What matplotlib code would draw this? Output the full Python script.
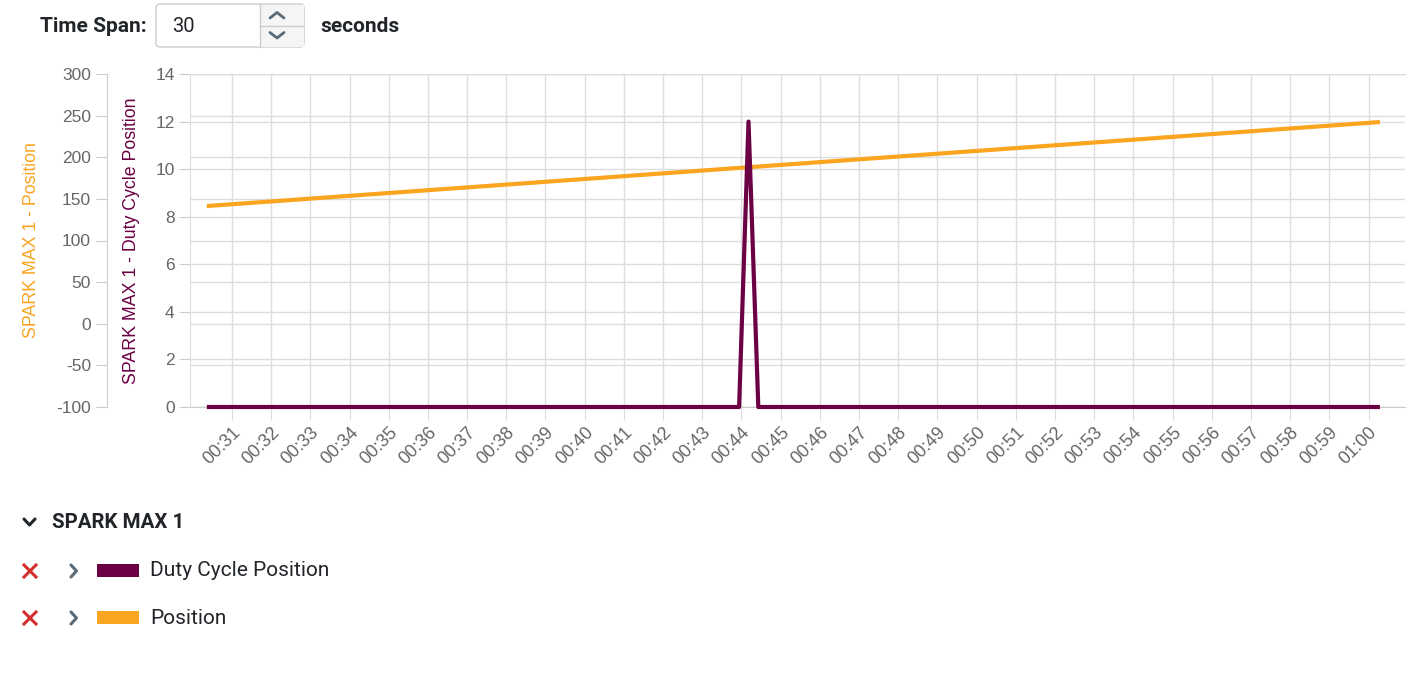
import matplotlib
matplotlib.use("Agg")
import matplotlib.pyplot as plt
import matplotlib.transforms as mtransforms
from matplotlib.lines import Line2D
from matplotlib.patches import FancyBboxPatch, Rectangle

# ---------------- data ----------------
duty_time = [30.36, 43.94, 44.18, 44.43, 60.29]
duty_values = [0, 0, 12, 0, 0]
pos_time = [30.36, 44.18, 60.29]
pos_values = [141.4, 188.0, 242.3]
x_tick_seconds = list(range(31, 61))
x_tick_labels = ["00:%02d" % s if s < 60 else "01:00" for s in x_tick_seconds]
pos_ticks = list(range(-100, 301, 50))
duty_ticks = list(range(0, 15, 2))
series_names = ["Duty Cycle Position", "Position"]
group_name = "SPARK MAX 1"
time_span = "30"

PURPLE = "#6B0044"
ORANGE = "#FAA420"
TICKC = "#666666"
GRIDC = "#DDDDDD"
TXT = "#212529"
CHARTFONT = ["Liberation Sans", "DejaVu Sans"]

W, H = 1414, 684
plt.rcParams["font.family"] = ["Roboto", "DejaVu Sans"]
plt.rcParams["axes.unicode_minus"] = False

fig = plt.figure(figsize=(W / 100, H / 100), dpi=100)
pix = mtransforms.Affine2D().scale(1 / W, -1 / H).translate(0, 1) + fig.transFigure

L, R, T, B = 190, 1405, 74, 407
ax = fig.add_axes([L / W, 1 - B / H, (R - L) / W, (B - T) / H])
ax2 = ax.twinx()

# host axis: Position (outer left axis)
ax.set_xlim(29.93, 60.93)
ax.set_ylim(-100, 300)
ax.set_yticks(pos_ticks)
ax.set_xticks(x_tick_seconds)
ax.set_xticklabels(x_tick_labels, rotation=45, ha="right", va="top",
                   rotation_mode="anchor")
ax.spines["left"].set_position(("outward", 83 * 0.72))
ax.spines["right"].set_visible(False)
for s in ["left", "top", "bottom"]:
    ax.spines[s].set_color("#CCCCCC")
ax.tick_params(axis="y", colors="#CCCCCC", labelcolor=TICKC, labelsize=12.5,
               length=8, pad=3.5)
ax.tick_params(axis="x", colors=GRIDC, labelcolor=TICKC, labelsize=13,
               length=9, pad=3)
for lab in ax.get_xticklabels() + ax.get_yticklabels():
    lab.set_family(CHARTFONT)
ax.grid(True, color=GRIDC, linewidth=1)
ax.set_axisbelow(True)
ax.set_ylabel("SPARK MAX 1 - Position", color=ORANGE, fontsize=12.8,
              family=CHARTFONT)
ax.yaxis.set_label_coords((32 - L) / (R - L), 0.5)
ax.yaxis.label.set_va("center")

# twin axis: Duty Cycle Position (inner left axis)
ax2.set_ylim(0, 14)
ax2.set_yticks(duty_ticks)
ax2.yaxis.tick_left()
ax2.yaxis.set_label_position("left")
for s in ["right", "top", "bottom"]:
    ax2.spines[s].set_visible(False)
ax2.spines["left"].set_color("#DDDDDD")
ax2.tick_params(axis="y", colors="#CCCCCC", labelcolor=TICKC, labelsize=12.5,
                length=8, pad=3)
for lab in ax2.get_yticklabels():
    lab.set_family(CHARTFONT)
ax2.grid(True, axis="y", color=GRIDC, linewidth=1)
ax2.set_ylabel("SPARK MAX 1 - Duty Cycle Position", color=PURPLE, fontsize=12.8,
               family=CHARTFONT)
ax2.yaxis.set_label_coords((131 - L) / (R - L), 0.5)
ax2.yaxis.label.set_va("center")

# lines (both in ax2 so purple is drawn on top; orange uses position scale)
ax2.plot(pos_time, pos_values, color=ORANGE, linewidth=3.0,
         transform=ax.transData, solid_capstyle="butt", zorder=3)
ax2.plot(duty_time, duty_values, color=PURPLE, linewidth=3.0,
         solid_capstyle="butt", zorder=4, clip_on=False)
ax2.set_xlim(29.93, 60.93)

# ---------------- top controls ----------------
fig.text(40, 26, "Time Span:", transform=pix, fontsize=15, fontweight="bold",
         color=TXT, va="center", ha="left")
box = FancyBboxPatch((156, 4), 148, 43, boxstyle="round,pad=0,rounding_size=4",
                     transform=pix, facecolor="white", edgecolor="#CCCCCC",
                     linewidth=1)
fig.add_artist(box)
spin = Rectangle((260, 4.5), 43.5, 42, transform=pix, facecolor="#F5F5F5",
                 edgecolor="none")
fig.add_artist(spin)
fig.add_artist(Line2D([260, 260], [4, 47], transform=pix, color="#CCCCCC", lw=1))
fig.add_artist(Line2D([260, 304], [25.5, 25.5], transform=pix, color="#CCCCCC", lw=1))
fig.add_artist(Line2D([270, 277, 284], [18, 12.5, 18], transform=pix,
                      color="#5A6A78", lw=2, solid_capstyle="round"))
fig.add_artist(Line2D([270, 277, 284], [32.5, 38, 32.5], transform=pix,
                      color="#5A6A78", lw=2, solid_capstyle="round"))
fig.text(172, 26, time_span, transform=pix, fontsize=14.5, color=TXT,
         va="center", ha="left")
fig.text(320, 26, "seconds", transform=pix, fontsize=15, fontweight="bold",
         color=TXT, va="center", ha="left")

# ---------------- legend panel ----------------
fig.add_artist(Line2D([24, 29.5, 35], [519, 525, 519], transform=pix,
                      color=TXT, lw=2.2, solid_capstyle="round"))
fig.text(52, 522, group_name, transform=pix, fontsize=14.8, fontweight="bold",
         color=TXT, va="center", ha="left")
colors = [PURPLE, ORANGE]
rows_y = [571, 618]
for name, c, yy in zip(series_names, colors, rows_y):
    fig.add_artist(Line2D([24, 36], [yy - 6, yy + 6], transform=pix,
                          color="#D32F2F", lw=2.2))
    fig.add_artist(Line2D([24, 36], [yy + 6, yy - 6], transform=pix,
                          color="#D32F2F", lw=2.2))
    fig.add_artist(Line2D([71, 76.5, 71], [yy - 6, yy, yy + 6], transform=pix,
                          color="#5A6A78", lw=2.2, solid_capstyle="round"))
    fig.add_artist(Rectangle((97, yy - 7), 42, 13, transform=pix,
                             facecolor=c, edgecolor="none"))
    fig.text(150, yy, name, transform=pix, fontsize=15, color=TXT,
             va="center", ha="left")

fig.savefig("out.png", dpi=100)
